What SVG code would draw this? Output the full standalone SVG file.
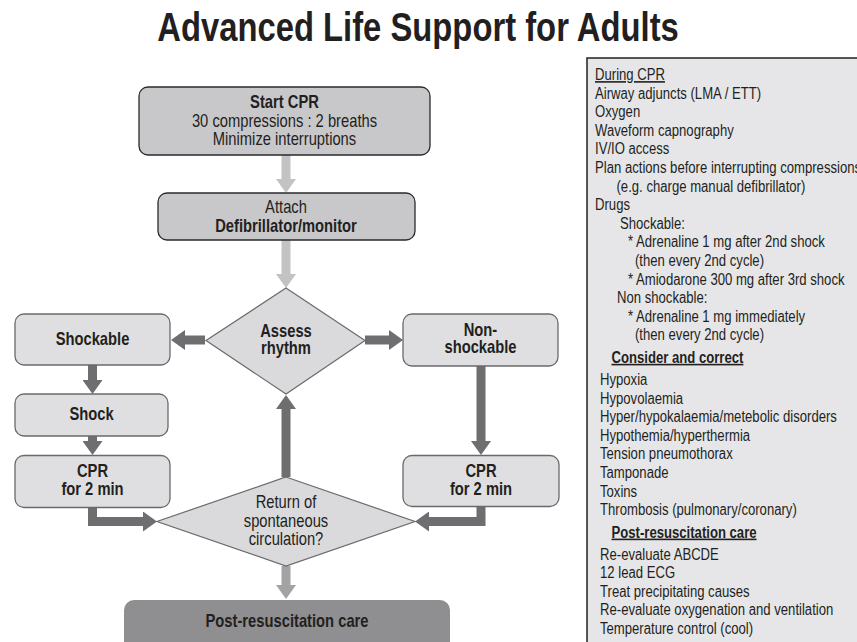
<svg xmlns="http://www.w3.org/2000/svg" width="857" height="642" viewBox="0 0 857 642">
<style>
.t{font-family:"Liberation Sans",Arial,sans-serif;fill:#231f20}
.ttl{font-size:40px;font-weight:bold;text-anchor:middle}
.f{font-size:18px;text-anchor:middle}
.p{font-size:16px}
.b{font-weight:bold}
.u{text-decoration:underline}
.boxA{fill:#c8c8ca;stroke:#2a2a2a;stroke-width:1.3}
.boxB{fill:#dfdfe1;stroke:#6a6a6c;stroke-width:1.3}
.dia{fill:#dadadc;stroke:#6a6a6c;stroke-width:1.2}
.light{fill:none;stroke:#c3c3c5;stroke-width:9}
.mid{fill:none;stroke:#a3a3a5;stroke-width:9}
.dark{fill:none;stroke:#6e6e71;stroke-width:9;stroke-linejoin:miter}
</style>
<defs>
<marker id="hl" viewBox="0 0 14 20" refX="0" refY="10" markerWidth="14" markerHeight="20" markerUnits="userSpaceOnUse" orient="auto"><path d="M0,0 L14,10 L0,20 z" fill="#c3c3c5"/></marker>
<marker id="hm" viewBox="0 0 14 20" refX="0" refY="10" markerWidth="14" markerHeight="20" markerUnits="userSpaceOnUse" orient="auto"><path d="M0,0 L14,10 L0,20 z" fill="#a3a3a5"/></marker>
<marker id="hd" viewBox="0 0 14 20" refX="0" refY="10" markerWidth="14" markerHeight="20" markerUnits="userSpaceOnUse" orient="auto"><path d="M0,0 L14,10 L0,20 z" fill="#6e6e71"/></marker>
</defs>
<rect width="857" height="642" fill="#ffffff"/>
<text class="t ttl" transform="translate(418,41) scale(0.82,1)">Advanced Life Support for Adults</text>

<g id="connectors">
<path class="light" d="M286,155 V179" marker-end="url(#hl)"/>
<path class="light" d="M286,240 V274" marker-end="url(#hl)"/>
<path class="dark" d="M205,340 H185" marker-end="url(#hd)"/>
<path class="dark" d="M365,340 H389" marker-end="url(#hd)"/>
<path class="dark" d="M481,366 V441" marker-end="url(#hd)"/>
<path class="dark" d="M481,507 V521.5 H429" marker-end="url(#hd)"/>
<path class="dark" d="M92.5,365 V380" marker-end="url(#hd)"/>
<path class="dark" d="M92.5,436 V441" marker-end="url(#hd)"/>
<path class="dark" d="M92.5,508 V521.5 H143" marker-end="url(#hd)"/>
<path class="dark" d="M286,477 V409" marker-end="url(#hd)"/>
<path class="mid" d="M286,566 V585" marker-end="url(#hm)"/>
</g>

<g id="start-cpr">
<rect class="boxA" x="139" y="87" width="291" height="68" rx="9"/>
<text class="t f b" transform="translate(284.5,108) scale(0.82,1)">Start CPR</text>
<text class="t f" transform="translate(284.5,127) scale(0.82,1)">30 compressions : 2 breaths</text>
<text class="t f" transform="translate(284.5,145) scale(0.82,1)">Minimize interruptions</text>
</g>

<g id="attach">
<rect class="boxA" x="158" y="193" width="257" height="47" rx="9"/>
<text class="t f" transform="translate(286,213) scale(0.82,1)">Attach</text>
<text class="t f b" transform="translate(286,232) scale(0.82,1)">Defibrillator/monitor</text>
</g>

<g id="assess">
<polygon class="dia" points="286,288 365,340.5 286,394 206,340.5"/>
<text class="t f b" transform="translate(286,337) scale(0.82,1)">Assess</text>
<text class="t f b" transform="translate(286,354) scale(0.82,1)">rhythm</text>
</g>

<g id="shockable">
<rect class="boxB" x="15" y="314" width="155" height="51" rx="9"/>
<text class="t f b" transform="translate(92.5,345) scale(0.82,1)">Shockable</text>
</g>

<g id="non-shockable">
<rect class="boxB" x="403" y="314" width="155" height="52" rx="9"/>
<text class="t f b" transform="translate(480.5,336) scale(0.82,1)">Non-</text>
<text class="t f b" transform="translate(480.5,353) scale(0.82,1)">shockable</text>
</g>

<g id="shock">
<rect class="boxB" x="15" y="394" width="153" height="42" rx="9"/>
<text class="t f b" transform="translate(91.5,420) scale(0.82,1)">Shock</text>
</g>

<g id="cpr-left">
<rect class="boxB" x="15" y="455.5" width="155" height="52" rx="9"/>
<text class="t f b" transform="translate(92.5,477) scale(0.82,1)">CPR</text>
<text class="t f b" transform="translate(92.5,495) scale(0.82,1)">for 2 min</text>
</g>

<g id="cpr-right">
<rect class="boxB" x="403" y="455.5" width="156" height="51" rx="9"/>
<text class="t f b" transform="translate(481,477) scale(0.82,1)">CPR</text>
<text class="t f b" transform="translate(481,495) scale(0.82,1)">for 2 min</text>
</g>

<g id="rosc">
<polygon class="dia" points="286,477 415,521.5 286,566 157,521.5"/>
<text class="t f" transform="translate(286,508) scale(0.82,1)">Return of</text>
<text class="t f" transform="translate(286,527) scale(0.82,1)">spontaneous</text>
<text class="t f" transform="translate(286,545) scale(0.82,1)">circulation?</text>
</g>

<g id="post-care">
<rect x="124" y="600" width="326" height="60" rx="10" fill="#8f8f91"/>
<text class="t f b" transform="translate(287,627) scale(0.82,1)">Post-resuscitation care</text>
</g>

<g id="panel">
<rect x="587" y="58" width="300" height="600" fill="#e6e6e8" stroke="#231f20" stroke-width="1.5"/>
<text class="t p u" transform="translate(595,80) scale(0.82,1)">During CPR</text>
<text class="t p" transform="translate(595,98.6) scale(0.82,1)">Airway adjuncts (LMA / ETT)</text>
<text class="t p" transform="translate(595,117.2) scale(0.82,1)">Oxygen</text>
<text class="t p" transform="translate(595,135.8) scale(0.82,1)">Waveform capnography</text>
<text class="t p" transform="translate(595,154.4) scale(0.82,1)">IV/IO access</text>
<text class="t p" transform="translate(595,173) scale(0.82,1)">Plan actions before interrupting compressions</text>
<text class="t p" transform="translate(616.5,191.6) scale(0.82,1)">(e.g. charge manual defibrillator)</text>
<text class="t p" transform="translate(595,210.2) scale(0.82,1)">Drugs</text>
<text class="t p" transform="translate(620,228.8) scale(0.82,1)">Shockable:</text>
<text class="t p" transform="translate(628,247.4) scale(0.82,1)">* Adrenaline 1 mg after 2nd shock</text>
<text class="t p" transform="translate(635,266) scale(0.82,1)">(then every 2nd cycle)</text>
<text class="t p" transform="translate(628,284.6) scale(0.82,1)">* Amiodarone 300 mg after 3rd shock</text>
<text class="t p" transform="translate(617,303.2) scale(0.82,1)">Non shockable:</text>
<text class="t p" transform="translate(628,321.8) scale(0.82,1)">* Adrenaline 1 mg immediately</text>
<text class="t p" transform="translate(635,340.4) scale(0.82,1)">(then every 2nd cycle)</text>
<text class="t p b u" transform="translate(611.5,362.7) scale(0.82,1)">Consider and correct</text>
<text class="t p" transform="translate(600,385) scale(0.82,1)">Hypoxia</text>
<text class="t p" transform="translate(600,403.6) scale(0.82,1)">Hypovolaemia</text>
<text class="t p" transform="translate(600,422.2) scale(0.82,1)">Hyper/hypokalaemia/metebolic disorders</text>
<text class="t p" transform="translate(600,440.8) scale(0.82,1)">Hypothemia/hyperthermia</text>
<text class="t p" transform="translate(600,459.4) scale(0.82,1)">Tension pneumothorax</text>
<text class="t p" transform="translate(600,478) scale(0.82,1)">Tamponade</text>
<text class="t p" transform="translate(600,496.6) scale(0.82,1)">Toxins</text>
<text class="t p" transform="translate(600,515.2) scale(0.82,1)">Thrombosis (pulmonary/coronary)</text>
<text class="t p b u" transform="translate(611.5,537.5) scale(0.82,1)">Post-resuscitation care</text>
<text class="t p" transform="translate(600,559.5) scale(0.82,1)">Re-evaluate ABCDE</text>
<text class="t p" transform="translate(600,578.1) scale(0.82,1)">12 lead ECG</text>
<text class="t p" transform="translate(600,596.7) scale(0.82,1)">Treat precipitating causes</text>
<text class="t p" transform="translate(600,615.3) scale(0.82,1)">Re-evaluate oxygenation and ventilation</text>
<text class="t p" transform="translate(600,633.9) scale(0.82,1)">Temperature control (cool)</text>
</g>
</svg>
